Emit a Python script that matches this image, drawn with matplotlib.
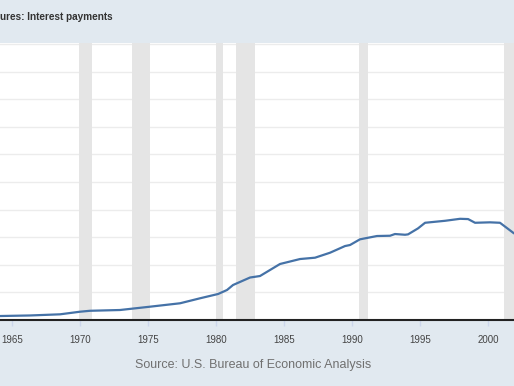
import matplotlib.pyplot as plt

# =========================================================
# DATA
# =========================================================

years = [1964.14, 1966.34, 1968.55, 1970.01, 1970.75, 1972.95, 1975.15,
         1977.36, 1978.82, 1980.15, 1980.81, 1981.25, 1982.50, 1983.23,
         1984.70, 1986.17, 1987.27, 1988.37, 1989.47, 1989.84, 1990.57,
         1990.94, 1991.82, 1992.78, 1993.14, 1993.88, 1994.10, 1994.83,
         1995.35, 1996.08, 1996.82, 1997.92, 1998.51, 1999.02, 2000.12,
         2000.85, 2001.88]
values = [7.2, 8.2, 10.3, 15.0, 16.7, 18.1, 24.1,
          30.3, 39.3, 47.1, 54.4, 63.4, 77.0, 79.7,
          101.5, 110.5, 112.9, 121.9, 134.0, 135.9, 146.2,
          148.0, 152.2, 152.7, 155.8, 154.5, 155.2, 166.0,
          176.2, 178.0, 179.8, 183.4, 182.9, 176.2, 177.0,
          176.2, 157.0]

recessions = [(1969.917, 1970.875), (1973.833, 1975.167), (1980.0, 1980.5),
              (1981.5, 1982.833), (1990.5, 1991.167), (2001.167, 2001.95)]

tick_years = [1965, 1970, 1975, 1980, 1985, 1990, 1995, 2000]

TITLE = "ures: Interest payments"
SOURCE = "Source: U.S. Bureau of Economic Analysis"

# =========================================================
# STYLE
# =========================================================

BG = "#e1e9f0"
LINE = "#4572a7"
plt.rcParams["font.family"] = ["Liberation Sans", "DejaVu Sans"]

fig = plt.figure(figsize=(5.14, 3.86), dpi=100)
fig.patch.set_facecolor(BG)

ax = fig.add_axes([0, (386 - 320) / 386, 1, (320 - 43) / 386])
ax.set_facecolor("white")

for a, b in recessions:
    ax.axvspan(a, b, color="#e5e5e5", lw=0, zorder=1)

ax.plot(years, values, color=LINE, lw=1.6, zorder=3, solid_capstyle="round")

ax.set_xlim(1964.14, 2001.88)
ax.set_ylim(0, 502)
ax.set_yticks(range(0, 501, 50))
ax.yaxis.grid(True, color="#ececec", lw=1, zorder=0)
ax.set_axisbelow(True)
ax.tick_params(axis="y", left=False, labelleft=False)

ax.set_xticks(tick_years)
ax.set_xticklabels([str(y) for y in tick_years])
ax.tick_params(axis="x", length=4, width=1, color="#ccd6eb",
               labelsize=7, labelcolor="#444444", pad=7)

for side in ["top", "left", "right"]:
    ax.spines[side].set_visible(False)
ax.spines["bottom"].set_color("#222222")
ax.spines["bottom"].set_linewidth(1.5)

fig.text(0, 1 - 17 / 386, TITLE, fontsize=7.2, fontweight="bold",
         color="#333333", ha="left", va="center")
fig.text(253 / 514, 1 - 365 / 386, SOURCE, fontsize=9,
         color="#707070", ha="center", va="center")

plt.savefig("out.png", dpi=100, facecolor=BG)
